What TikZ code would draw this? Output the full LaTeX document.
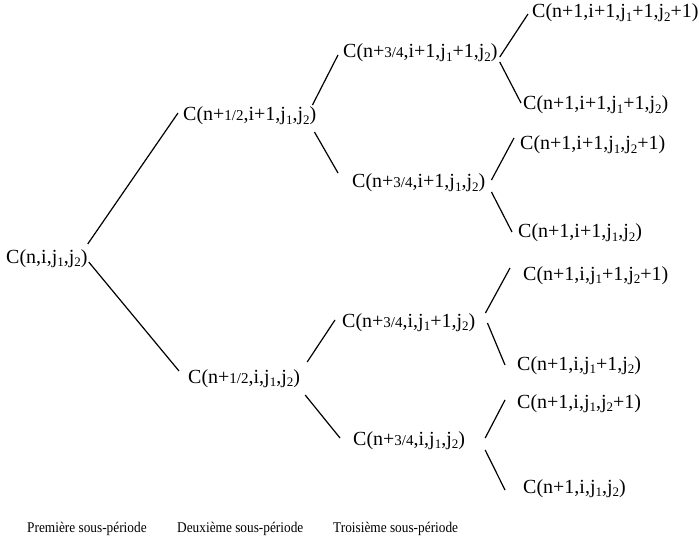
\documentclass[tikz,border=0pt]{standalone}
\usepackage{fontspec}
\setmainfont{Liberation Serif}
\newcommand\sbs[1]{\raisebox{-0.35ex}{\fontsize{13}{13}\selectfont #1}}
\newcommand\frc[1]{{\fontsize{15}{15}\selectfont #1}}
\newcommand\narrowtxt[1]{\scalebox{0.9}[1]{#1}}
\begin{document}
\begin{tikzpicture}[x=1pt,y=-1pt,
  lab/.style={anchor=base west, inner sep=0pt, font=\fontsize{20}{24}\selectfont},
  per/.style={anchor=base west, inner sep=0pt, font=\fontsize{14.8}{17}\selectfont},
  br/.style={line width=1.2pt}]
\useasboundingbox (0,0) rectangle (699,540);
% nodes
\node[lab] (r)  at (6,263)   {C(n,i,j\sbs{1},j\sbs{2})};
\node[lab] (a1) at (183,121) {C(n+\frc{1/2},i+1,j\sbs{1},j\sbs{2})};
\node[lab] (a2) at (188,383) {C(n+\frc{1/2},i,j\sbs{1},j\sbs{2})};
\node[lab] (b1) at (343,58)  {C(n+\frc{3/4},i+1,j\sbs{1}+1,j\sbs{2})};
\node[lab] (b2) at (352,188) {C(n+\frc{3/4},i+1,j\sbs{1},j\sbs{2})};
\node[lab] (b3) at (342,327) {C(n+\frc{3/4},i,j\sbs{1}+1,j\sbs{2})};
\node[lab] (b4) at (353,445) {C(n+\frc{3/4},i,j\sbs{1},j\sbs{2})};
\node[lab] (c1) at (532,18)  {C(n+1,i+1,j\sbs{1}+1,j\sbs{2}+1)};
\node[lab] (c2) at (523,110) {C(n+1,i+1,j\sbs{1}+1,j\sbs{2})};
\node[lab] (c3) at (520,150) {C(n+1,i+1,j\sbs{1},j\sbs{2}+1)};
\node[lab] (c4) at (518,238) {C(n+1,i+1,j\sbs{1},j\sbs{2})};
\node[lab] (c5) at (523,280) {C(n+1,i,j\sbs{1}+1,j\sbs{2}+1)};
\node[lab] (c6) at (517,370) {C(n+1,i,j\sbs{1}+1,j\sbs{2})};
\node[lab] (c7) at (517,408) {C(n+1,i,j\sbs{1},j\sbs{2}+1)};
\node[lab] (c8) at (523,493) {C(n+1,i,j\sbs{1},j\sbs{2})};
\node[per] (p1) at (27,532)  {\narrowtxt{Première sous-période}};
\node[per] (p2) at (177,532) {\narrowtxt{Deuxième sous-période}};
\node[per] (p3) at (333,532) {\narrowtxt{Troisième sous-période}};
% branches
\draw[br] ([shift={(0,-19)}]r.base east) -- ([shift={(-5,-8)}]a1.base west);
\draw[br] ([shift={(1,-1)}]r.base east) -- ([shift={(-9,-12)}]a2.base west);
\draw[br] ([shift={(-4,-16)}]a1.base east) -- ([shift={(-5,-3)}]b1.base west);
\draw[br] ([shift={(-2,11)}]a1.base east) -- ([shift={(-14,-15)}]b2.base west);
\draw[br] ([shift={(7,-21)}]a2.base east) -- ([shift={(-7,-7)}]b3.base west);
\draw[br] ([shift={(5,12)}]a2.base east) -- ([shift={(-13,-7)}]b4.base west);
\draw[br] ([shift={(2,-1)}]b1.base east) -- ([shift={(-4,-4)}]c1.base west);
\draw[br] ([shift={(2,4)}]b1.base east) -- ([shift={(-2,-7)}]c2.base west);
\draw[br] ([shift={(6,-8)}]b2.base east) -- ([shift={(-6,-12)}]c3.base west);
\draw[br] ([shift={(6,4)}]b2.base east) -- ([shift={(-6,-6)}]c4.base west);
\draw[br] ([shift={(10,-14)}]b3.base east) -- ([shift={(-13,-12)}]c5.base west);
\draw[br] ([shift={(12,-4)}]b3.base east) -- ([shift={(-12,-5)}]c6.base west);
\draw[br] ([shift={(20,-7)}]b4.base east) -- ([shift={(-12,-8)}]c7.base west);
\draw[br] ([shift={(20,5)}]b4.base east) -- ([shift={(-18,-3)}]c8.base west);
\end{tikzpicture}
\end{document}
